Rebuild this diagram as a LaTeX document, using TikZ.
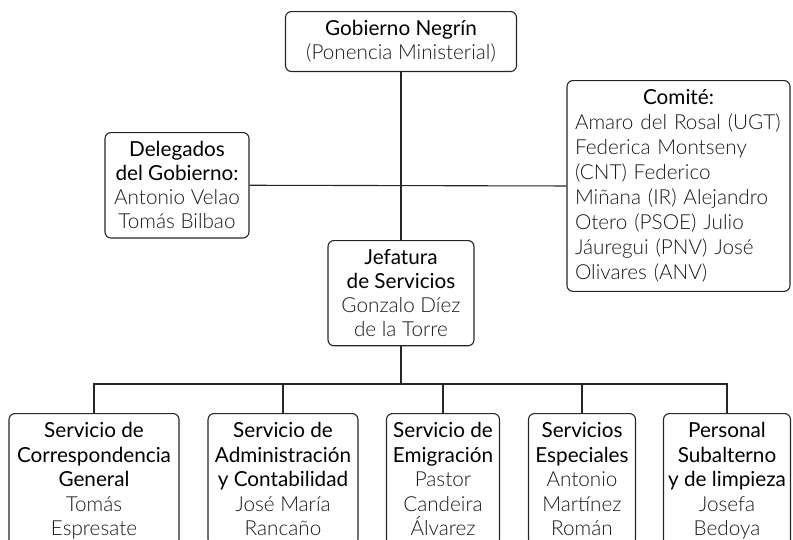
\documentclass[tikz,border=0pt]{standalone}
\usepackage{fontspec}
\setmainfont{Lato}
\newfontfamily\lightfont{Lato Light}
\newcommand\lt[1]{\mbox{\lightfont\color{black!90}#1}}
\begin{document}
\begin{tikzpicture}[x=1pt,y=-1pt,
  box/.style={draw=black!85, line width=1.1pt, rounded corners=6pt, align=center,
    inner xsep=3pt, inner ysep=9pt, anchor=north, text=black,
    font=\fontsize{20.7}{24}\selectfont},
  link/.style={draw=black!85, line width=1.1pt}]
\useasboundingbox (0,0) rectangle (793,539);
\clip (0,0) rectangle (793,539);
\node[box, minimum width=231pt] (top) at (401,11) {Gobierno Negrín\\\lt{(Ponencia Ministerial)}};
\node[box, minimum width=144pt] (del) at (177,132) {Delegados\\del Gobierno:\\\lt{Antonio Velao}\\\lt{Tomás Bilbao}};
\node[box, minimum width=223pt, text width=207pt, align=left, inner xsep=8pt,
  font=\fontsize{20.7}{25}\selectfont] (com) at (678.5,80)
  {\makebox[207pt]{Comité:}\\\lt{Amaro del Rosal (UGT)}\\\lt{Federica Montseny}\\\lt{(CNT) Federico}\\\lt{Miñana (IR) Alejandro}\\\lt{Otero (PSOE) Julio}\\\lt{Jáuregui (PNV) José}\\\lt{Olivares (ANV)}};
\node[box, minimum width=146pt] (jef) at (401,240) {Jefatura\\de Servicios\\\lt{Gonzalo Díez}\\\lt{de la Torre}};
\coordinate (bus) at (401,384);
\node[box, minimum width=170pt, font=\fontsize{20.7}{24.5}\selectfont] (b1) at (94,413) {Servicio de\\Correspondencia\\General\\\lt{Tomás}\\\lt{Espresate}};
\node[box, minimum width=150pt, font=\fontsize{20.7}{24.5}\selectfont] (b2) at (283,413) {Servicio de\\Administración\\y Contabilidad\\\lt{José María}\\\lt{Rancaño}};
\node[box, minimum width=113pt, font=\fontsize{20.7}{24.5}\selectfont] (b3) at (443,413) {Servicio de\\Emigración\\\lt{Pastor}\\\lt{Candeira}\\\lt{Álvarez}};
\node[box, minimum width=107pt, font=\fontsize{20.7}{24.5}\selectfont] (b4) at (582,413) {Servicios\\Especiales\\\lt{Antonio}\\\lt{Martínez}\\\lt{Román}};
\node[box, minimum width=127pt, font=\fontsize{20.7}{24.5}\selectfont] (b5) at (727,413) {Personal\\Subalterno\\y de limpieza\\\lt{Josefa}\\\lt{Bedoya}};
\draw[link] (top.south) -- (jef.north);
\draw[link] (del.east) -- (com.west);
\draw[link] (jef.south) -- (bus);
\draw[link] (b1.north) -- (b1.north |- bus) -- (b5.north |- bus) -- (b5.north);
\foreach \b in {b2,b3,b4} \draw[link] (\b.north) -- (\b.north |- bus);
\end{tikzpicture}
\end{document}
